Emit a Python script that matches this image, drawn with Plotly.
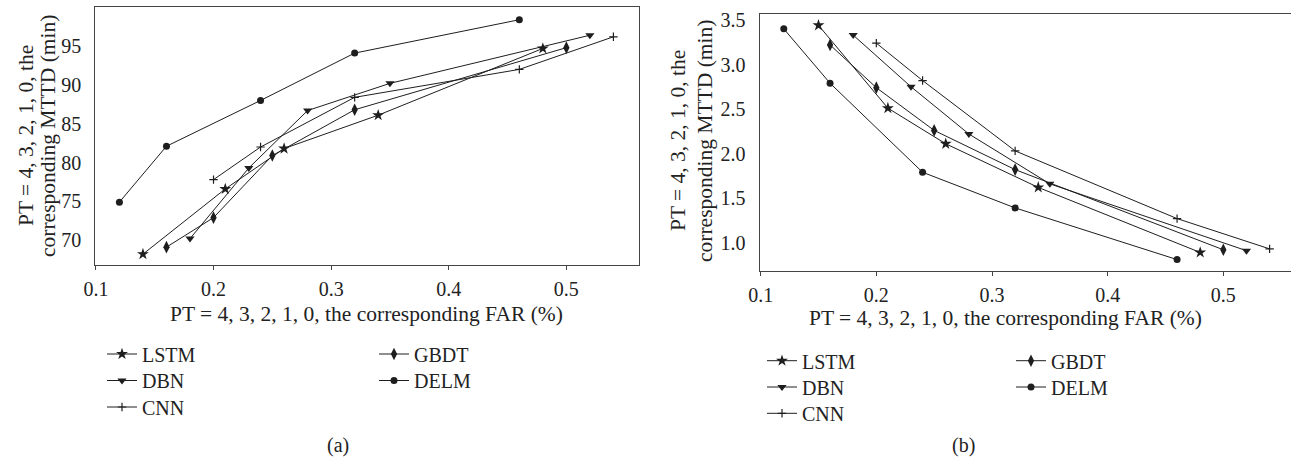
import plotly.graph_objects as go

W, H = 1291, 466

# ---------------- data ----------------
models = ["LSTM", "DBN", "CNN", "GBDT", "DELM"]

# panel (a): FAR (%) vs MTTD (min)
a_LSTM_x = [0.14, 0.21, 0.26, 0.34, 0.48]
a_LSTM_y = [68.2, 76.6, 81.8, 86.1, 94.7]
a_DBN_x = [0.18, 0.23, 0.28, 0.35, 0.52]
a_DBN_y = [70.2, 79.3, 86.7, 90.2, 96.4]
a_CNN_x = [0.20, 0.24, 0.32, 0.46, 0.54]
a_CNN_y = [77.8, 82.0, 88.4, 92.0, 96.2]
a_GBDT_x = [0.16, 0.20, 0.25, 0.32, 0.50]
a_GBDT_y = [69.1, 72.9, 80.9, 86.8, 94.8]
a_DELM_x = [0.12, 0.16, 0.24, 0.32, 0.46]
a_DELM_y = [74.9, 82.1, 88.0, 94.1, 98.4]

# panel (b)
b_LSTM_x = [0.15, 0.21, 0.26, 0.34, 0.48]
b_LSTM_y = [3.44, 2.51, 2.11, 1.62, 0.89]
b_DBN_x = [0.18, 0.23, 0.28, 0.35, 0.52]
b_DBN_y = [3.33, 2.75, 2.22, 1.66, 0.91]
b_CNN_x = [0.20, 0.24, 0.32, 0.46, 0.54]
b_CNN_y = [3.24, 2.82, 2.03, 1.27, 0.93]
b_GBDT_x = [0.16, 0.20, 0.25, 0.32, 0.50]
b_GBDT_y = [3.22, 2.74, 2.26, 1.82, 0.92]
b_DELM_x = [0.12, 0.16, 0.24, 0.32, 0.46]
b_DELM_y = [3.40, 2.79, 1.79, 1.39, 0.81]

a_xticks = [0.1, 0.2, 0.3, 0.4, 0.5]
a_yticks = [70, 75, 80, 85, 90, 95]
b_xticks = [0.1, 0.2, 0.3, 0.4, 0.5]
b_yticks = [1.0, 1.5, 2.0, 2.5, 3.0, 3.5]

x_title = "PT = 4, 3, 2, 1, 0, the corresponding FAR (%)"
y_title_1 = "PT = 4, 3, 2, 1, 0, the"
y_title_2 = "corresponding MTTD (min)"

# ---------------- styles ----------------
FONT = "Liberation Serif, Times New Roman, serif"
LC = "#1e1e1e"
TC = "#222"
styles = {
    "LSTM": dict(symbol="star", size=9),
    "DBN": dict(symbol="triangle-down", size=8),
    "CNN": dict(symbol="cross-thin", size=6, line=dict(width=1.2, color=LC)),
    "GBDT": dict(symbol="diamond-tall", size=9),
    "DELM": dict(symbol="circle", size=7),
}

panel_a = {
    "LSTM": (a_LSTM_x, a_LSTM_y), "DBN": (a_DBN_x, a_DBN_y), "CNN": (a_CNN_x, a_CNN_y),
    "GBDT": (a_GBDT_x, a_GBDT_y), "DELM": (a_DELM_x, a_DELM_y),
}
panel_b = {
    "LSTM": (b_LSTM_x, b_LSTM_y), "DBN": (b_DBN_x, b_DBN_y), "CNN": (b_CNN_x, b_CNN_y),
    "GBDT": (b_GBDT_x, b_GBDT_y), "DELM": (b_DELM_x, b_DELM_y),
}


def px_x(p):
    return p / W


def px_y(p):
    return 1 - p / H


fig = go.Figure()

# legend placement (pixel): text-left x of each column, centre y of first row, row step
leg_pos = {
    "a": dict(col1=143, col2=415, y0=355, dy=26.5),
    "b": dict(col1=803, col2=1052, y0=361.7, dy=26.3),
}
TEXT_OFFSET = 41  # distance from legend left edge to item text
Y_OFFSET = -1     # legend centre vs text centre

legend_layouts = {}
leg_counter = [1]


def add_panel(data, xa, ya, key):
    pos = leg_pos[key]
    for m in models:
        x, y = data[m]
        leg_counter[0] += 1
        name = f"legend{leg_counter[0]}"
        if m in ("LSTM", "DBN", "CNN"):
            lx = pos["col1"]
            row = ("LSTM", "DBN", "CNN").index(m)
        else:
            lx = pos["col2"]
            row = ("GBDT", "DELM").index(m)
        ly = pos["y0"] + row * pos["dy"] + Y_OFFSET
        legend_layouts[name] = dict(
            x=px_x(lx - TEXT_OFFSET), y=px_y(ly), xanchor="left", yanchor="middle",
            font=dict(family=FONT, size=20, color=TC), bgcolor="rgba(0,0,0,0)",
            itemwidth=30, borderwidth=0,
        )
        fig.add_trace(go.Scatter(
            x=x, y=y, mode="lines+markers", name=m,
            line=dict(color=LC, width=1.0), marker=dict(color=LC, **styles[m]),
            xaxis=xa, yaxis=ya, legend=name, showlegend=True,
        ))


add_panel(panel_a, "x", "y", "a")
add_panel(panel_b, "x2", "y2", "b")

axis_common = dict(
    showgrid=False, zeroline=False, showline=True, linecolor="#444", linewidth=1,
    automargin=False,
    tickfont=dict(family=FONT, size=20, color=TC),
)

fig.update_layout(
    width=W, height=H,
    showlegend=True,
    margin=dict(l=0, r=0, t=0, b=0, autoexpand=False),
    paper_bgcolor="white", plot_bgcolor="white",
    font=dict(family=FONT, size=20, color=TC),
    xaxis=dict(domain=[px_x(95.3), px_x(639.3)], range=[0.0995, 0.562], anchor="y",
               tickvals=a_xticks, ticktext=[str(v) for v in a_xticks],
               ticks="outside", ticklen=4, tickcolor="#444", ticklabelstandoff=2,
               mirror=True, **axis_common),
    yaxis=dict(domain=[px_y(265), px_y(7.3)], range=[66.8, 100], anchor="x",
               tickvals=a_yticks, ticks="", ticklabelstandoff=9, mirror=True, **axis_common),
    xaxis2=dict(domain=[px_x(759.5), 1.0], range=[0.099, 0.5585], anchor="y2",
                tickvals=b_xticks, ticktext=[str(v) for v in b_xticks],
                ticks="outside", ticklen=4, tickcolor="#444", ticklabelstandoff=2,
                mirror=True, **axis_common),
    yaxis2=dict(domain=[px_y(270.7), px_y(14)], range=[0.685, 3.567], anchor="x2",
                tickvals=b_yticks, ticktext=[f"{v:.1f}" for v in b_yticks], ticks="",
                ticklabelstandoff=9, mirror=False, **axis_common),
    **legend_layouts,
)

ann = []


def text(x, y, s, angle=0, size=21.5):
    ann.append(dict(x=px_x(x), y=px_y(y), xref="paper", yref="paper", text=s,
                    showarrow=False, xanchor="center", yanchor="middle", textangle=angle,
                    font=dict(family=FONT, size=size, color=TC)))


text(366, 314, x_title)
text(1006, 318, x_title)
text(26, 136, y_title_1, -90)
text(48, 136, y_title_2, -90)
text(678, 141, y_title_1, -90)
text(705, 141, y_title_2, -90)
text(338, 445, "(a)", size=20)
text(963, 445, "(b)", size=20)
fig.update_layout(annotations=ann)

fig.write_html("out.html", config={"displayModeBar": False},
               post_script="document.body.style.margin='0';")
